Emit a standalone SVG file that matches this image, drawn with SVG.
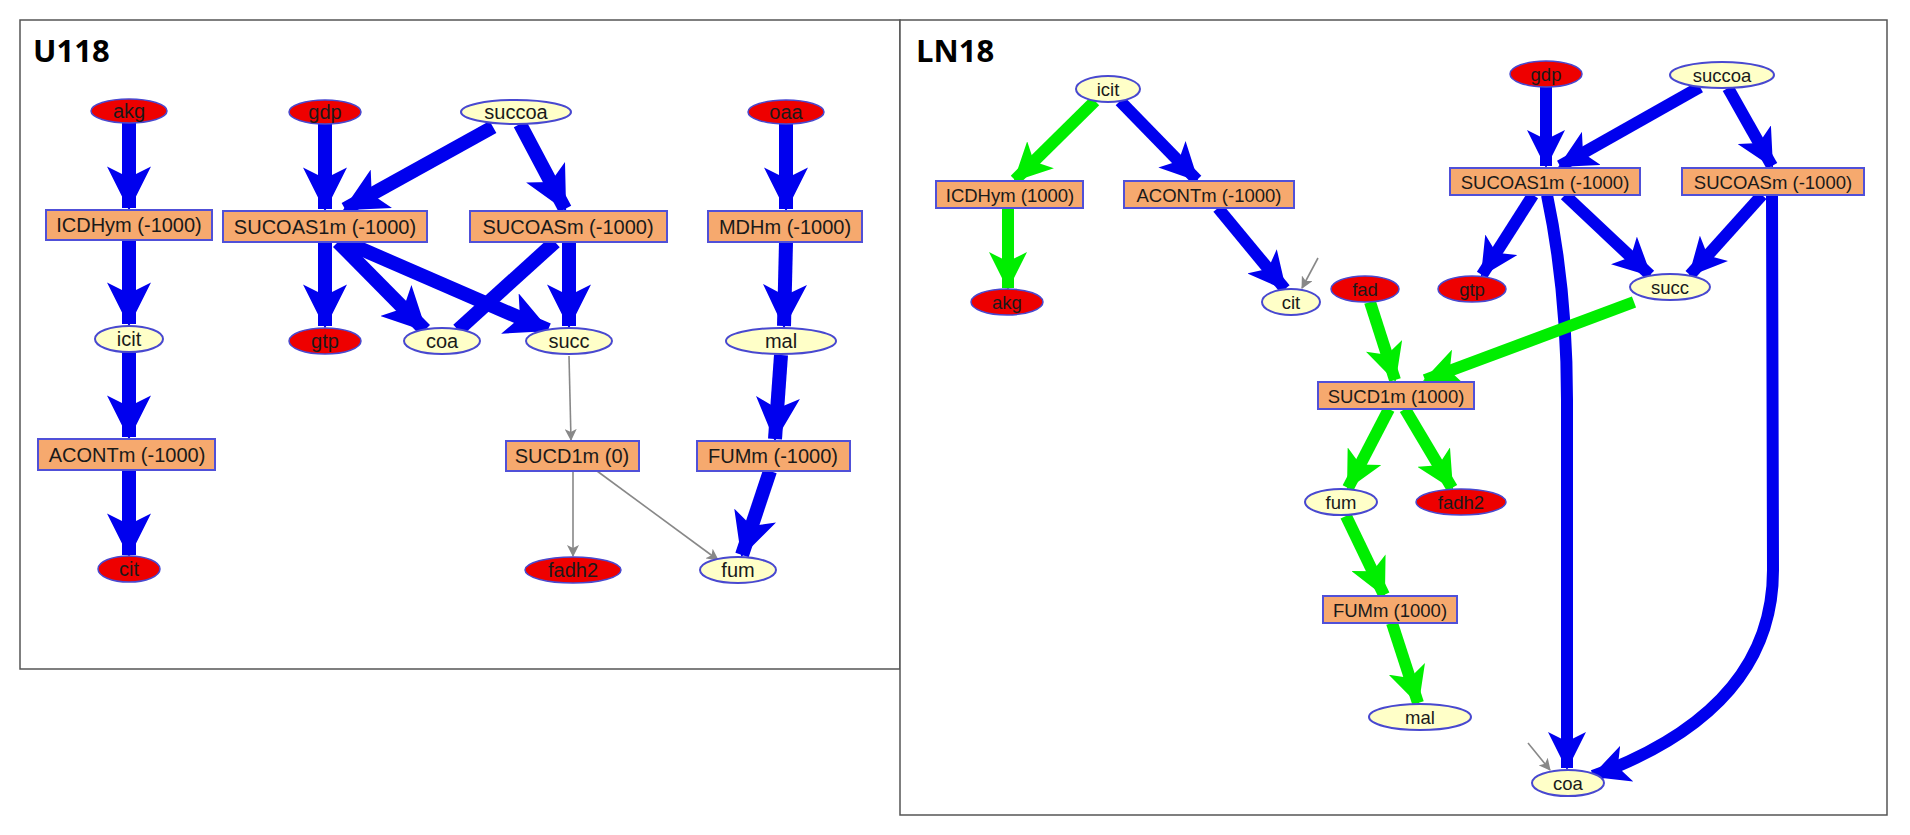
<svg xmlns="http://www.w3.org/2000/svg" width="1910" height="835" viewBox="0 0 1910 835">
<defs>
<style>
.t{font-family:"Liberation Sans",Arial,sans-serif;text-anchor:middle;dominant-baseline:central;fill:#1a1a1a}
.a{font-size:20px}.b{font-size:18.5px}
.r{fill:#f6a96e;stroke:#5050d8;stroke-width:2}
.y{fill:#ffffc8;stroke:#4848d0;stroke-width:2}
.red{fill:#ee0000;stroke:#4848d0;stroke-width:1.5}
.bl{stroke:#0000ee;fill:none}
.gr{stroke:#00ee00;fill:none}
.g1{stroke-width:14}.g2{stroke-width:12}
.gy{stroke:#888;stroke-width:1.6;fill:none}
.ttl{font-family:"Open Sans","Liberation Sans",sans-serif;font-weight:bold;font-size:31px;fill:#000}
</style>
<marker id="mb" markerUnits="userSpaceOnUse" markerWidth="44" markerHeight="44" viewBox="0 0 36 36" refX="34" refY="18" orient="auto"><path d="M0,0 L36,18 L0,36 L9,18 z" fill="#0000ee"/></marker>
<marker id="mb2" markerUnits="userSpaceOnUse" markerWidth="38" markerHeight="38" viewBox="0 0 36 36" refX="34" refY="18" orient="auto"><path d="M0,0 L36,18 L0,36 L9,18 z" fill="#0000ee"/></marker>
<marker id="mg2" markerUnits="userSpaceOnUse" markerWidth="38" markerHeight="38" viewBox="0 0 36 36" refX="34" refY="18" orient="auto"><path d="M0,0 L36,18 L0,36 L9,18 z" fill="#00ee00"/></marker>
<marker id="my" markerUnits="userSpaceOnUse" markerWidth="12" markerHeight="12" viewBox="0 0 12 12" refX="11" refY="6" orient="auto"><path d="M0,0 L12,6 L0,12 L3,6 z" fill="#888"/></marker>
</defs>
<rect x="0" y="0" width="1910" height="835" fill="#fff"/>
<rect x="20" y="20" width="880" height="649" fill="#fff" stroke="#555" stroke-width="1.5"/>
<rect x="900" y="20" width="987" height="795" fill="#fff" stroke="#555" stroke-width="1.5"/>
<text class="ttl" x="33" y="62">U118</text>
<text class="ttl" x="916" y="62">LN18</text>
<g id="connectors">
<g marker-end="url(#mb)" class="bl g1">
<line x1="129" y1="123" x2="129" y2="208"/>
<line x1="129" y1="240" x2="129" y2="324"/>
<line x1="129" y1="353" x2="129" y2="437"/>
<line x1="129" y1="470" x2="129" y2="555"/>
<line x1="325" y1="124" x2="325" y2="209"/>
<line x1="493" y1="127" x2="345" y2="209"/>
<line x1="520" y1="124" x2="565" y2="209"/>
<line x1="325" y1="242" x2="325" y2="326"/>
<line x1="338" y1="242" x2="425" y2="330"/>
<line x1="345" y1="242" x2="548" y2="330"/>
<line x1="569" y1="242" x2="569" y2="326"/>
<line x1="786" y1="124" x2="786" y2="209"/>
<line x1="786" y1="242" x2="784" y2="326"/>
<line x1="781" y1="355" x2="775" y2="439"/>
<line x1="770" y1="471" x2="742" y2="555"/>
</g>
<line class="bl g1" x1="555" y1="242" x2="458" y2="330"/>
<g class="gy" marker-end="url(#my)">
<line x1="569" y1="356" x2="571" y2="440"/>
<line x1="573" y1="471" x2="573" y2="556"/>
<line x1="597" y1="471" x2="718" y2="560"/>
<line x1="1318" y1="258" x2="1302" y2="288"/>
<line x1="1528" y1="743" x2="1550" y2="770"/>
</g>
<g marker-end="url(#mb2)" class="bl g2">
<line x1="1120" y1="101" x2="1197" y2="180"/>
<line x1="1218" y1="208" x2="1285" y2="289"/>
<line x1="1546" y1="86" x2="1546" y2="166"/>
<line x1="1700" y1="87" x2="1560" y2="166"/>
<line x1="1728" y1="88" x2="1772" y2="166"/>
<line x1="1533" y1="195" x2="1482" y2="275"/>
<line x1="1565" y1="195" x2="1650" y2="275"/>
<line x1="1762" y1="195" x2="1690" y2="275"/>
<path d="M1547,195 Q1567,290 1567,400 L1567,768"/>
<path d="M1772,195 L1773,570 Q1773,710 1593,776"/>
</g>
<g marker-end="url(#mg2)" class="gr g2">
<line x1="1095" y1="101" x2="1015" y2="180"/>
<line x1="1008" y1="208" x2="1008" y2="288"/>
<line x1="1370" y1="302" x2="1395" y2="380"/>
<line x1="1634" y1="302" x2="1425" y2="380"/>
<line x1="1389" y1="409" x2="1348" y2="488"/>
<line x1="1405" y1="409" x2="1452" y2="488"/>
<line x1="1346" y1="516" x2="1384" y2="595"/>
<line x1="1392" y1="623" x2="1418" y2="703"/>
</g>
</g>
<g id="u-akg"><ellipse class="red" cx="129" cy="111" rx="38" ry="12"/><text class="t a" x="129" y="111">akg</text></g>
<g id="u-gdp"><ellipse class="red" cx="325" cy="112" rx="36" ry="12"/><text class="t a" x="325" y="112">gdp</text></g>
<g id="u-succoa"><ellipse class="y" cx="516" cy="112" rx="55" ry="12"/><text class="t a" x="516" y="112">succoa</text></g>
<g id="u-oaa"><ellipse class="red" cx="786" cy="112" rx="38" ry="12"/><text class="t a" x="786" y="112">oaa</text></g>
<g id="u-ICDHym"><rect class="r" x="46" y="210" width="166" height="30"/><text class="t a" x="129" y="225">ICDHym (-1000)</text></g>
<g id="u-SUCOAS1m"><rect class="r" x="223" y="211" width="204" height="31"/><text class="t a" x="325" y="227">SUCOAS1m (-1000)</text></g>
<g id="u-SUCOASm"><rect class="r" x="470" y="211" width="197" height="31"/><text class="t a" x="568" y="227">SUCOASm (-1000)</text></g>
<g id="u-MDHm"><rect class="r" x="708" y="211" width="154" height="31"/><text class="t a" x="785" y="227">MDHm (-1000)</text></g>
<g id="u-icit"><ellipse class="y" cx="129" cy="339" rx="34" ry="13"/><text class="t a" x="129" y="339">icit</text></g>
<g id="u-gtp"><ellipse class="red" cx="325" cy="341" rx="36" ry="13"/><text class="t a" x="325" y="341">gtp</text></g>
<g id="u-coa"><ellipse class="y" cx="442" cy="341" rx="38" ry="13"/><text class="t a" x="442" y="341">coa</text></g>
<g id="u-succ"><ellipse class="y" cx="569" cy="341" rx="43" ry="13"/><text class="t a" x="569" y="341">succ</text></g>
<g id="u-mal"><ellipse class="y" cx="781" cy="341" rx="55" ry="13"/><text class="t a" x="781" y="341">mal</text></g>
<g id="u-ACONTm"><rect class="r" x="38" y="439" width="177" height="31"/><text class="t a" x="127" y="455">ACONTm (-1000)</text></g>
<g id="u-SUCD1m"><rect class="r" x="506" y="441" width="133" height="30"/><text class="t a" x="572" y="456">SUCD1m (0)</text></g>
<g id="u-FUMm"><rect class="r" x="697" y="441" width="153" height="30"/><text class="t a" x="773" y="456">FUMm (-1000)</text></g>
<g id="u-cit"><ellipse class="red" cx="129" cy="569" rx="31" ry="13"/><text class="t a" x="129" y="569">cit</text></g>
<g id="u-fadh2"><ellipse class="red" cx="573" cy="570" rx="48" ry="13"/><text class="t a" x="573" y="570">fadh2</text></g>
<g id="u-fum"><ellipse class="y" cx="738" cy="570" rx="38" ry="13"/><text class="t a" x="738" y="570">fum</text></g>

<g id="l-icit"><ellipse class="y" cx="1108" cy="89" rx="32" ry="13"/><text class="t b" x="1108" y="89">icit</text></g>
<g id="l-gdp"><ellipse class="red" cx="1546" cy="74" rx="36" ry="13"/><text class="t b" x="1546" y="74">gdp</text></g>
<g id="l-succoa"><ellipse class="y" cx="1722" cy="75" rx="52" ry="13"/><text class="t b" x="1722" y="75">succoa</text></g>
<g id="l-ICDHym"><rect class="r" x="936" y="181" width="147" height="27"/><text class="t b" x="1010" y="195">ICDHym (1000)</text></g>
<g id="l-ACONTm"><rect class="r" x="1124" y="181" width="170" height="27"/><text class="t b" x="1209" y="195">ACONTm (-1000)</text></g>
<g id="l-SUCOAS1m"><rect class="r" x="1450" y="168" width="190" height="27"/><text class="t b" x="1545" y="182">SUCOAS1m (-1000)</text></g>
<g id="l-SUCOASm"><rect class="r" x="1682" y="168" width="182" height="27"/><text class="t b" x="1773" y="182">SUCOASm (-1000)</text></g>
<g id="l-akg"><ellipse class="red" cx="1007" cy="302" rx="36" ry="13"/><text class="t b" x="1007" y="302">akg</text></g>
<g id="l-cit"><ellipse class="y" cx="1291" cy="302" rx="29" ry="13"/><text class="t b" x="1291" y="302">cit</text></g>
<g id="l-fad"><ellipse class="red" cx="1365" cy="289" rx="34" ry="13"/><text class="t b" x="1365" y="289">fad</text></g>
<g id="l-gtp"><ellipse class="red" cx="1472" cy="289" rx="34" ry="13"/><text class="t b" x="1472" y="289">gtp</text></g>
<g id="l-succ"><ellipse class="y" cx="1670" cy="287" rx="40" ry="13"/><text class="t b" x="1670" y="287">succ</text></g>
<g id="l-SUCD1m"><rect class="r" x="1318" y="382" width="156" height="27"/><text class="t b" x="1396" y="396">SUCD1m (1000)</text></g>
<g id="l-fum"><ellipse class="y" cx="1341" cy="502" rx="36" ry="13"/><text class="t b" x="1341" y="502">fum</text></g>
<g id="l-fadh2"><ellipse class="red" cx="1461" cy="502" rx="45" ry="13"/><text class="t b" x="1461" y="502">fadh2</text></g>
<g id="l-FUMm"><rect class="r" x="1323" y="596" width="134" height="27"/><text class="t b" x="1390" y="610">FUMm (1000)</text></g>
<g id="l-mal"><ellipse class="y" cx="1420" cy="717" rx="51" ry="13"/><text class="t b" x="1420" y="717">mal</text></g>
<g id="l-coa"><ellipse class="y" cx="1568" cy="783" rx="36" ry="13"/><text class="t b" x="1568" y="783">coa</text></g>
</svg>
